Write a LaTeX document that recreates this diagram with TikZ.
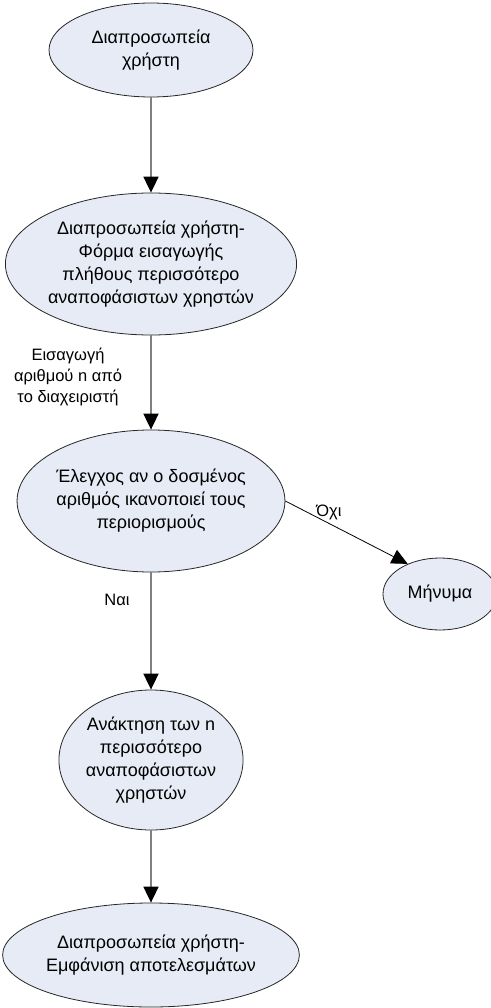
\documentclass[tikz,border=0pt]{standalone}
\usepackage{fontspec}
\setmainfont{Liberation Sans}
\usetikzlibrary{shapes.geometric,arrows.meta}
\definecolor{ovalfill}{HTML}{E6EBF5}
\definecolor{flowgrey}{HTML}{808080}
\begin{document}
\begin{tikzpicture}[x=1pt,y=-1pt,
  oval/.style={ellipse,draw=black!85,line width=0.8pt,fill=ovalfill,inner sep=0pt,
    align=center,font=\fontsize{18pt}{23pt}\selectfont},
  flow/.style={draw=flowgrey,line width=1.8pt,-{Triangle[length=16pt,width=15pt,fill=black,color=black]}},
  branch/.style={draw=black,line width=0.8pt,-{Triangle[length=16pt,width=15pt,fill=black,color=black]}},
  edgetext/.style={align=center,font=\fontsize{16.5pt}{21pt}\selectfont,inner sep=0pt}]
\useasboundingbox (0,0) rectangle (490,1008);

% process steps
\node[oval,minimum width=204pt,minimum height=94pt] (ui) at (151,50) {Διαπροσωπεία\\χρήστη};
\node[oval,minimum width=276pt,minimum height=142pt] (form) at (151,264)
  {Διαπροσωπεία χρήστη-\\Φόρμα εισαγωγής\\πλήθους περισσότερο\\αναποφάσιστων χρηστών};
\node[oval,minimum width=246pt,minimum height=142pt] (check) at (151,501)
  {Έλεγχος αν ο δοσμένος\\αριθμός ικανοποιεί τους\\περιορισμούς};
\node[oval,minimum width=114pt,minimum height=72pt] (msg) at (440,594) {Μήνυμα};
\node[oval,minimum width=182pt,minimum height=140pt] (fetch) at (151,760)
  {Ανάκτηση των n\\περισσότερο\\αναποφάσιστων\\χρηστών};
\node[oval,minimum width=274pt,minimum height=104pt] (show) at (151,955)
  {Διαπροσωπεία χρήστη-\\Εμφάνιση αποτελεσμάτων};

% connectors
\draw[flow] (ui) -- (form);
\draw[flow] (form) -- (check);
\draw[flow] (check) -- (fetch);
\draw[flow] (fetch) -- (show);
\draw[branch] (check.east) -- (msg.137);

% connector labels
\node[edgetext] (lblinput) at (68,377) {Εισαγωγή\\αριθμού n από\\το διαχειριστή};
\node[edgetext] (lblyes) at (117,600) {Ναι};
\node[edgetext] (lblno) at (329,512) {Όχι};
\end{tikzpicture}
\end{document}
